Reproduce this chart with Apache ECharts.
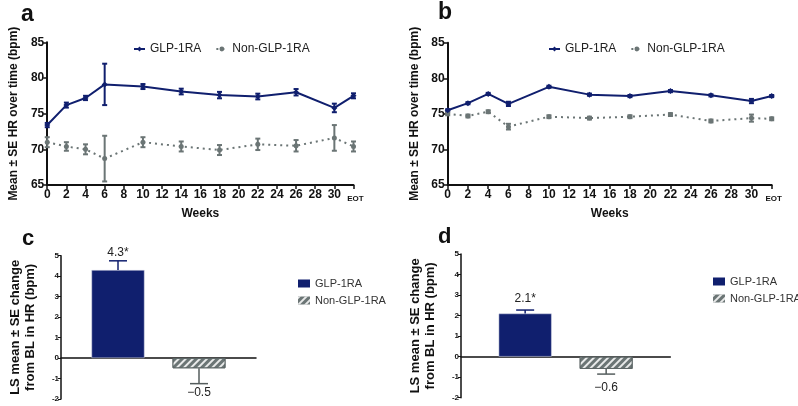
<!DOCTYPE html>
<html><head><meta charset="utf-8">
<script src="https://cdn.jsdelivr.net/npm/echarts@6/dist/echarts.min.js"></script>
<style>
html,body{margin:0;padding:0;background:#fff;}
#root{position:relative;width:798px;height:406px;}
.p{position:absolute;}
</style></head>
<body><div id="root">
<div id="pa" class="p" style="left:0;top:0;width:400px;height:225px"></div>
<div id="pb" class="p" style="left:400px;top:0;width:398px;height:225px"></div>
<div id="pc" class="p" style="left:0;top:225px;width:400px;height:181px"></div>
<div id="pd" class="p" style="left:400px;top:225px;width:398px;height:181px"></div>
</div>
<script>
// ---- data ----
const weeks = [0, 2, 4, 6, 10, 14, 18, 22, 26, 30, 32]; // 32 = EOT
const xTickLabels = ['0','2','4','6','8','10','12','14','16','18','20','22','24','26','28','30','EOT'];
const seriesNames = ['GLP-1RA', 'Non-GLP-1RA'];
const aGlp   = [73.4, 76.2, 77.2, 79.1, 78.8, 78.1, 77.6, 77.4, 78.0, 75.8, 77.5];
const aGlpSE = [0.3, 0.35, 0.3, 2.9, 0.35, 0.4, 0.45, 0.4, 0.45, 0.6, 0.35];
const aNon   = [71.0, 70.4, 70.0, 68.7, 71.0, 70.4, 69.9, 70.7, 70.5, 71.6, 70.4];
const aNonSE = [0.7, 0.6, 0.7, 3.2, 0.7, 0.7, 0.7, 0.8, 0.8, 1.8, 0.7];
const bGlp   = [75.5, 76.5, 77.8, 76.4, 78.8, 77.7, 77.5, 78.2, 77.6, 76.8, 77.5];
const bGlpSE = [0.15, 0.15, 0.15, 0.3, 0.15, 0.15, 0.15, 0.15, 0.15, 0.3, 0.15];
const bNon   = [75.0, 74.7, 75.3, 73.2, 74.6, 74.4, 74.6, 74.9, 74.0, 74.4, 74.3];
const bNonSE = [0.2, 0.2, 0.2, 0.4, 0.2, 0.2, 0.2, 0.2, 0.2, 0.5, 0.2];
const cValues = [4.3, -0.5];
const cSE     = [0.45, 0.75];
const cLabels = ['4.3*', '\u22120.5'];
const dValues = [2.1, -0.6];
const dSE     = [0.17, 0.25];
const dLabels = ['2.1*', '\u22120.6'];

// ---- style ----
const NAVY = '#101f6e';
const GRAY = '#6b7575';
const FONT = '"Liberation Sans", Arial, sans-serif';

function lineChart(el, letter, glp, glpSE, non, nonSE, grid, legendPos, yNameGap) {
  const ch = echarts.init(document.getElementById(el), null, {renderer: 'canvas'});
  function errSeries(vals, se, color, lw) {
    return {
      type: 'custom', silent: true, z: 1,
      data: weeks.map((w, i) => [w, vals[i], se[i]]),
      renderItem: function (params, api) {
        const x = api.value(0), v = api.value(1), s = api.value(2);
        const top = api.coord([x, v + s]);
        const bot = api.coord([x, v - s]);
        const hw = 2.5;
        const st = {stroke: color, lineWidth: lw};
        return {type: 'group', children: [
          {type: 'line', shape: {x1: top[0], y1: top[1], x2: bot[0], y2: bot[1]}, style: st},
          {type: 'line', shape: {x1: top[0] - hw, y1: top[1], x2: top[0] + hw, y2: top[1]}, style: st},
          {type: 'line', shape: {x1: bot[0] - hw, y1: bot[1], x2: bot[0] + hw, y2: bot[1]}, style: st}
        ]};
      }
    };
  }
  ch.setOption({
    animation: false,
    textStyle: {fontFamily: FONT},
    graphic: [{type: 'text', left: letter.x, top: letter.y, style: {text: letter.t, font: 'bold 23px ' + FONT, fill: '#111'}}],
    legend: {
      data: seriesNames, left: legendPos.left, top: legendPos.top, padding: 0,
      itemWidth: 11, itemHeight: 6, itemGap: 14, itemTextGap: 5,
      textStyle: {fontSize: 12, color: '#222', fontFamily: FONT}
    },
    grid: grid,
    xAxis: {
      type: 'value', min: 0, max: 32, interval: 2,
      name: 'Weeks', nameLocation: 'middle', nameGap: 23,
      nameTextStyle: {fontWeight: 'bold', fontSize: 12, color: '#111'},
      axisLine: {lineStyle: {color: '#111', width: 2}},
      axisTick: {length: 4, lineStyle: {color: '#111', width: 1.5}},
      splitLine: {show: false},
      axisLabel: {
        margin: 4, color: '#111', fontWeight: 'bold', fontSize: 12,
        formatter: v => { const l = xTickLabels[Math.round(v / 2)]; return l === 'EOT' ? '{e|EOT}' : l; },
        rich: {e: {fontSize: 8, fontWeight: 'bold', color: '#111', padding: [6, 0, 0, 4]}}
      }
    },
    yAxis: {
      type: 'value', min: 65, max: 85, interval: 5,
      name: 'Mean \u00b1 SE HR over time (bpm)', nameLocation: 'middle', nameGap: yNameGap, nameRotate: 90,
      nameTextStyle: {fontWeight: 'bold', fontSize: 12, color: '#111'},
      axisLine: {show: true, lineStyle: {color: '#111', width: 2}},
      axisTick: {show: true, length: 4, lineStyle: {color: '#111', width: 1.5}},
      splitLine: {show: false},
      axisLabel: {margin: 3, color: '#111', fontWeight: 'bold', fontSize: 12}
    },
    series: [
      errSeries(glp, glpSE, NAVY, 2),
      errSeries(non, nonSE, GRAY, 2),
      {
        name: seriesNames[0], type: 'line', z: 3,
        data: weeks.map((w, i) => [w, glp[i]]),
        symbol: 'diamond', symbolSize: 6, showAllSymbol: true,
        lineStyle: {color: NAVY, width: 2}, itemStyle: {color: NAVY}
      },
      {
        name: seriesNames[1], type: 'line', z: 2,
        data: weeks.map((w, i) => [w, non[i]]),
        symbol: 'circle', symbolSize: 5, showAllSymbol: true,
        lineStyle: {color: GRAY, width: 2, type: [2, 4]}, itemStyle: {color: GRAY}
      }
    ]
  });
}

function barChart(el, letter, values, se, labels, grid, legendPos, lblOff) {
  const ch = echarts.init(document.getElementById(el), null, {renderer: 'canvas'});
  const BW = 53, GAP = 28;
  const decal = {symbol: 'rect', symbolSize: 1, dashArrayX: [1, 0], dashArrayY: [2, 3], rotation: -Math.PI / 4, color: 'rgba(255,255,255,0.85)'};
  ch.setOption({
    animation: false,
    textStyle: {fontFamily: FONT},
    graphic: [{type: 'text', left: letter.x, top: letter.y, style: {text: letter.t, font: 'bold 22px ' + FONT, fill: '#111'}}],
    legend: {
      orient: 'vertical', left: legendPos.left, top: legendPos.top, padding: 0,
      data: seriesNames.map(n => ({name: n, icon: 'rect'})), itemWidth: 12, itemHeight: 8, itemGap: 6, itemTextGap: 6,
      itemStyle: {borderWidth: 0},
      textStyle: {fontSize: 11, color: '#333', fontFamily: FONT}
    },
    grid: grid,
    xAxis: {
      type: 'category', data: [''],
      axisLine: {onZero: true, lineStyle: {color: '#111', width: 1.5}},
      axisTick: {show: false}, axisLabel: {show: false}
    },
    yAxis: {
      type: 'value', min: -2, max: 5, interval: 1,
      name: 'LS mean \u00b1 SE change\nfrom BL in HR (bpm)', nameLocation: 'middle', nameGap: 23, nameRotate: 90,
      nameTextStyle: {fontWeight: 'bold', fontSize: 13, color: '#111', lineHeight: 15},
      axisLine: {show: true, lineStyle: {color: '#111', width: 1.5}},
      axisTick: {show: true, length: 3, lineStyle: {color: '#111', width: 1}},
      splitLine: {show: false},
      axisLabel: {margin: 2, color: '#111', fontWeight: 'bold', fontSize: 8}
    },
    series: [
      {name: seriesNames[0], type: 'bar', data: [values[0]], barWidth: BW, barGap: (GAP / BW * 100) + '%',
       itemStyle: {color: NAVY, borderColor: '#d8dbe8', borderWidth: 0.5}},
      {name: seriesNames[1], type: 'bar', data: [values[1]], barWidth: BW,
       itemStyle: {color: GRAY, borderColor: '#5c6666', borderWidth: 1, decal: decal}},
      {
        type: 'custom', silent: true, z: 5,
        data: values.map((v, i) => [0, v, se[i], i]),
        renderItem: function (params, api) {
          const v = api.value(1), s = api.value(2), idx = api.value(3);
          const dir = v >= 0 ? 1 : -1;
          const off = (idx === 0 ? -1 : 1) * (BW + GAP) / 2;
          const a = api.coord([0, v]);
          const b = api.coord([0, v + dir * s]);
          const x = a[0] + off;
          const col = idx === 0 ? NAVY : '#555d5d';
          const st = {stroke: col, lineWidth: 1.5};
          return {type: 'group', children: [
            {type: 'line', shape: {x1: x, y1: a[1], x2: x, y2: b[1]}, style: st},
            {type: 'line', shape: {x1: x - 9, y1: b[1], x2: x + 9, y2: b[1]}, style: st},
            {type: 'text', style: {text: labels[idx], x: x, y: b[1] - dir * lblOff[idx], align: 'center', verticalAlign: 'middle',
              font: '12px ' + FONT, fill: '#222'}}
          ]};
        }
      }
    ]
  });
}

lineChart('pa', {t: 'a', x: 21, y: 3}, aGlp, aGlpSE, aNon, aNonSE,
  {left: 32, top: 42.3, width: 321.5, height: 147}, {left: 133, top: 43}, 23);
lineChart('pb', {t: 'b', x: 38, y: 1}, bGlp, bGlpSE, bNon, bNonSE,
  {left: 47.7, top: 42.7, width: 324, height: 146.6}, {left: 148, top: 43}, 25);
barChart('pc', {t: 'c', x: 22, y: 3}, cValues, cSE, cLabels,
  {left: 40, top: 30.7, width: 216, height: 143.3}, {left: 298, top: 53}, [8, 9]);
barChart('pd', {t: 'd', x: 38, y: 1}, dValues, dSE, dLabels,
  {left: 53.3, top: 29, width: 217, height: 143.7}, {left: 313, top: 51}, [11, 14]);
</script>
</body></html>
